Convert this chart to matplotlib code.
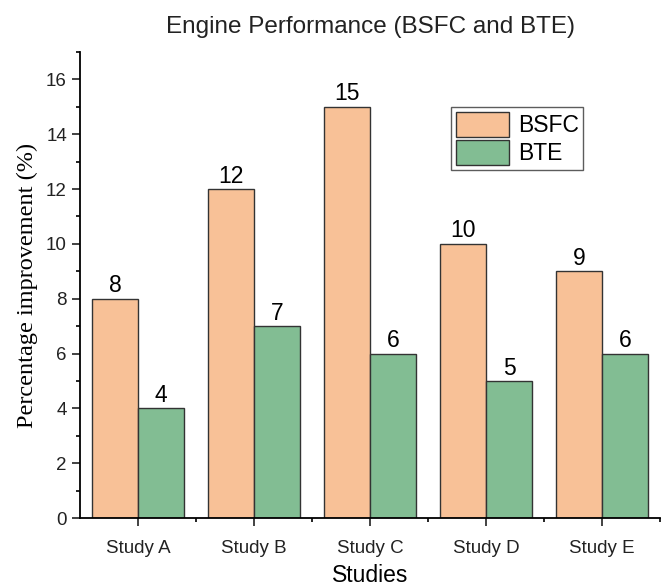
import matplotlib.pyplot as plt
import numpy as np
from matplotlib.ticker import MultipleLocator

studies = ["Study A", "Study B", "Study C", "Study D", "Study E"]
bsfc = [8, 12, 15, 10, 9]
bte = [4, 7, 6, 5, 6]

orange = "#F8C197"
green = "#82BD93"

plt.rcParams['font.family'] = ['Liberation Sans', 'DejaVu Sans']

fig = plt.figure(figsize=(6.62, 5.87), dpi=100)
ax = fig.add_axes([0.121, 0.1175, 0.876, 0.794])

x = np.arange(len(studies))
w = 0.4
b1 = ax.bar(x - w/2, bsfc, w, color=orange, edgecolor="#333333", linewidth=1, label="BSFC")
b2 = ax.bar(x + w/2, bte, w, color=green, edgecolor="#333333", linewidth=1, label="BTE")
ax.bar_label(b1, fontsize=16.5, padding=1)
ax.bar_label(b2, fontsize=16.5, padding=1)

ax.set_xlim(-0.5, 4.5)
ax.set_ylim(0, 17)
ax.set_xticks(x)
ax.set_xticklabels(studies)
ax.xaxis.set_minor_locator(plt.FixedLocator(x + 0.5))
ax.yaxis.set_major_locator(MultipleLocator(2))
ax.yaxis.set_minor_locator(MultipleLocator(1))
ax.tick_params(axis='both', which='major', direction='out', length=6, width=1.2, labelsize=13.5, colors='#222222')
ax.tick_params(axis='x', which='major', pad=10)
ax.tick_params(axis='both', which='minor', direction='out', length=3, width=1.2)

for s in ['top', 'right']:
    ax.spines[s].set_visible(False)
for s in ['left', 'bottom']:
    ax.spines[s].set_linewidth(1.3)

ax.set_title("Engine Performance (BSFC and BTE)", fontsize=17.5, pad=14, color='#222222')
ax.set_xlabel("Studies", fontsize=16.5, labelpad=5)
ax.set_ylabel("Percentage improvement (%)", fontsize=17.5, labelpad=6,
              family=['Liberation Serif', 'DejaVu Serif'])

leg = ax.legend(loc='upper left', bbox_to_anchor=(0.64, 0.882), fontsize=16.5, frameon=True,
                fancybox=False, edgecolor='#333333', handlelength=2.3, handleheight=1.3,
                handletextpad=0.4, borderpad=0.2, labelspacing=0.15, borderaxespad=0)
leg.get_frame().set_linewidth(1)

fig.savefig("out.png", dpi=100)
